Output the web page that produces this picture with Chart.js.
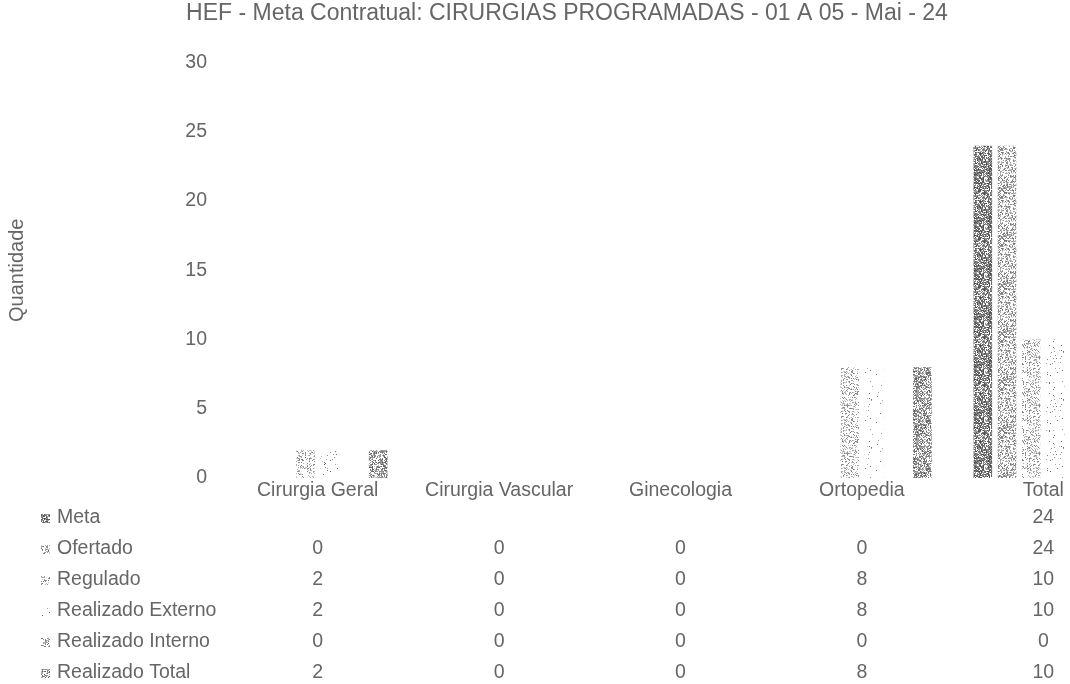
<!DOCTYPE html>
<html>
<head>
<meta charset="utf-8">
<script src="https://cdn.jsdelivr.net/npm/chart.js@4.4.1/dist/chart.umd.min.js"></script>
<style>
  html, body { margin: 0; padding: 0; background: #fff; overflow: hidden; }
  #wrap { position: relative; width: 1150px; height: 684px; }
</style>
</head>
<body>
<div id="wrap"><canvas id="surgeryChart"></canvas></div>
<script>
// data
const categories = ['Cirurgia Geral', 'Cirurgia Vascular', 'Ginecologia', 'Ortopedia', 'Total'];
const seriesNames = ['Meta', 'Ofertado', 'Regulado', 'Realizado Externo', 'Realizado Interno', 'Realizado Total'];
const meta = [null, null, null, null, 24];
const ofertado = [0, 0, 0, 0, 24];
const regulado = [2, 0, 0, 8, 10];
const realizadoExterno = [2, 0, 0, 8, 10];
const realizadoInterno = [0, 0, 0, 0, 0];
const realizadoTotal = [2, 0, 0, 8, 10];
const yTicks = [0, 5, 10, 15, 20, 25, 30];

const textColor = '#666666';
const font = 'Liberation Sans, Arial, sans-serif';

// grainy grey fill like the scanned original (deterministic hash, not data)
function grain(density, seed, lo, hi) {
  const c = document.createElement('canvas');
  c.width = 48; c.height = 48;
  const g = c.getContext('2d');
  g.fillStyle = '#fff';
  g.fillRect(0, 0, 48, 48);
  for (let y = 0; y < 48; y++) {
    for (let x = 0; x < 48; x++) {
      let h = (x * 374761393 + y * 668265263 + seed * 2147483647) | 0;
      h = Math.imul(h ^ (h >>> 13), 1274126177);
      h = (h ^ (h >>> 16)) >>> 0;
      const r = (h % 1000) / 1000;
      if (r < density) {
        const shade = lo + (h >>> 10) % (hi - lo);
        g.fillStyle = `rgb(${shade},${shade},${shade})`;
        g.fillRect(x, y, 1, 1);
      }
    }
  }
  return g.createPattern(c, 'repeat');
}

const fills = [
  grain(0.75, 1, 70, 170),
  grain(0.45, 2, 110, 200),
  grain(0.28, 3, 120, 210),
  grain(0.03, 4, 100, 180),
  grain(0.40, 5, 110, 200),
  grain(0.60, 6, 90, 190)
];

const seriesData = [meta, ofertado, regulado, realizadoExterno, realizadoInterno, realizadoTotal];

const dataTable = {
  id: 'dataTable',
  afterDraw(chart) {
    const ctx = chart.ctx;
    const xs = chart.scales.x;
    ctx.save();
    ctx.font = '19.5px ' + font;
    ctx.textBaseline = 'middle';
    seriesNames.forEach((name, i) => {
      const y = 518 + i * 31;
      ctx.fillStyle = fills[i];
      ctx.fillRect(41, y - 4, 9, 9);
      ctx.fillStyle = textColor;
      ctx.textAlign = 'left';
      ctx.fillText(name, 57, y);
      ctx.textAlign = 'center';
      seriesData[i].forEach((v, j) => {
        if (v === null) return;
        ctx.fillText(String(v), xs.getPixelForValue(j), y);
      });
    });
    ctx.restore();
  }
};

new Chart(document.getElementById('surgeryChart'), {
  type: 'bar',
  data: {
    labels: categories,
    datasets: seriesNames.map((name, i) => ({
      label: name,
      data: seriesData[i],
      backgroundColor: fills[i],
      borderWidth: 0,
      barPercentage: 0.77,
      categoryPercentage: 0.8
    }))
  },
  options: {
    responsive: true,
    maintainAspectRatio: false,
    animation: false,
    layout: { padding: { left: 0, right: 16, top: 0, bottom: 0 } },
    plugins: {
      legend: { display: false },
      tooltip: { enabled: false },
      title: {
        display: true,
        text: 'HEF - Meta Contratual: CIRURGIAS PROGRAMADAS - 01 A 05 - Mai - 24',
        color: textColor,
        font: { family: font, size: 23, weight: 'normal' },
        padding: { top: 0, bottom: 35 }
      }
    },
    scales: {
      x: {
        grid: { display: false, drawTicks: false },
        border: { display: false },
        ticks: { color: textColor, font: { family: font, size: 19.5 }, padding: 1, maxRotation: 0, autoSkip: false },
        afterFit(scale) { scale.height = 206; }
      },
      y: {
        min: 0,
        max: 30,
        grid: { display: false, drawTicks: false },
        border: { display: false },
        afterBuildTicks(scale) { scale.ticks = yTicks.map(v => ({ value: v })); },
        ticks: { color: textColor, font: { family: font, size: 19.5 }, padding: 20 },
        title: {
          display: true,
          text: 'Quantidade',
          color: textColor,
          font: { family: font, size: 20 },
          padding: { top: 5, bottom: 0 }
        },
        afterFit(scale) { scale.width = 227; }
      }
    }
  },
  plugins: [dataTable]
});
</script>
</body>
</html>
